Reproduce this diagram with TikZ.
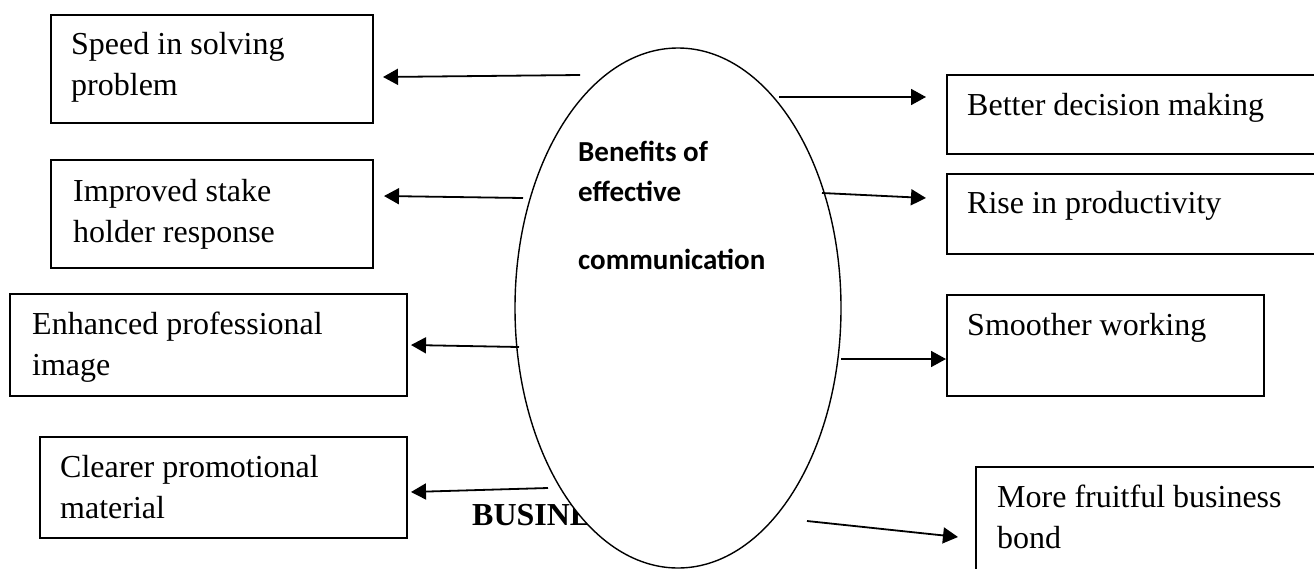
\documentclass[tikz,border=0pt]{standalone}
\usepackage{fontspec}
\setmainfont{Liberation Serif}
\newfontfamily\calfont{Carlito}
\usetikzlibrary{shapes.geometric,arrows.meta}
\tikzset{
  boxnode/.style={draw, line width=1.7pt, rectangle, inner sep=0pt, anchor=north west},
  txt/.style={anchor=base west, align=left, inner sep=0pt, font=\fontsize{32}{41}\selectfont},
  ctxt/.style={anchor=base west, inner sep=0pt, font=\calfont\bfseries\fontsize{29}{35}\selectfont},
  arr/.style={line width=1.8pt, -{Triangle[length=15pt,width=16pt]}}
}
\begin{document}
\begin{tikzpicture}[x=1pt,y=-1pt]
\useasboundingbox (0,0) rectangle (1314,568);
\clip (0,0) rectangle (1314,568);
\fill[white] (0,0) rectangle (1314,568);
% hidden title behind the ellipse
\node[anchor=base west, inner sep=0pt, font=\bfseries\fontsize{32}{41}\selectfont] (biz) at (472,525) {BUSINESS};
% central ellipse
\node[draw, ellipse, fill=white, line width=1.4pt, minimum width=326pt, minimum height=520pt, inner sep=0pt, outer sep=0pt] (ell) at (678,308) {};
\node[ctxt] (c1) at (578,161) {Benefits of};
\node[ctxt] (c2) at (578,201) {effective};
\node[ctxt] (c3) at (578,269) {communication};
% left boxes (multi-line texts are placed by the baseline of their last line)
\node[boxnode, minimum width=322pt, minimum height=108pt] (b1) at (50,14) {};
\node[txt] (t1) at (71,95) {Speed in solving\\problem};
\node[boxnode, minimum width=322pt, minimum height=108pt] (b2) at (50,159) {};
\node[txt] (t2) at (73,242) {Improved stake\\holder response};
\node[boxnode, minimum width=397pt, minimum height=102pt] (b3) at (9,293) {};
\node[txt] (t3) at (32,375) {Enhanced professional\\image};
\node[boxnode, minimum width=367pt, minimum height=101pt] (b4) at (39,436) {};
\node[txt] (t4) at (60,518) {Clearer promotional\\material};
% right boxes
\node[boxnode, minimum width=400pt, minimum height=79pt] (b5) at (946,74) {};
\node[txt] (t5) at (967,115) {Better decision making};
\node[boxnode, minimum width=400pt, minimum height=80pt] (b6) at (946,173) {};
\node[txt] (t6) at (967,213) {Rise in productivity};
\node[boxnode, minimum width=317pt, minimum height=101pt] (b7) at (946,294) {};
\node[txt] (t7) at (967,335) {Smoother working};
\node[boxnode, minimum width=400pt, minimum height=140pt] (b8) at (975,466) {};
\node[txt] (t8) at (997,548) {More fruitful business\\bond};
% connector end points
\coordinate (s1) at (580,75);  \coordinate (e1) at (383,77);
\coordinate (s2) at (523,198); \coordinate (e2) at (384,196);
\coordinate (s3) at (519,347); \coordinate (e3) at (411,345);
\coordinate (s4) at (548,488); \coordinate (e4) at (411,492);
\coordinate (s5) at (779,97);  \coordinate (e5) at (926,97);
\coordinate (s6) at (822,193); \coordinate (e6) at (926,198);
\coordinate (s7) at (841,359); \coordinate (e7) at (946,359);
\coordinate (s8) at (807,521); \coordinate (e8) at (958,537);
\draw[arr] (s1) -- (e1);
\draw[arr] (s2) -- (e2);
\draw[arr] (s3) -- (e3);
\draw[arr] (s4) -- (e4);
\draw[arr] (s5) -- (e5);
\draw[arr] (s6) -- (e6);
\draw[arr] (s7) -- (e7);
\draw[arr] (s8) -- (e8);
\end{tikzpicture}
\end{document}
